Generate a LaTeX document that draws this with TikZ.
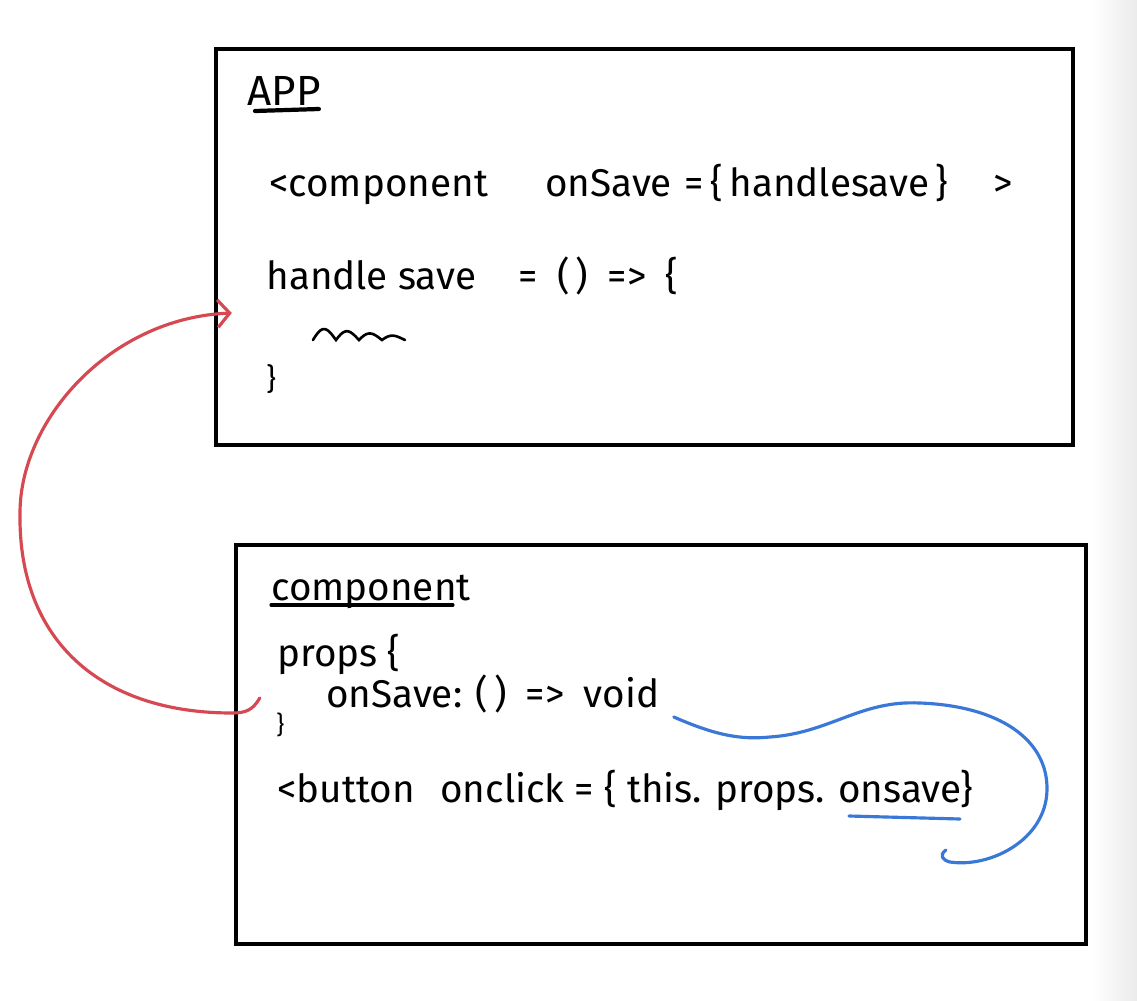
\documentclass[tikz,border=0pt]{standalone}
\usepackage{fontspec}
\setmainfont{Fira Sans}
\usepackage{tikz}
\usetikzlibrary{arrows.meta, calc}

\definecolor{penred}{RGB}{214,72,82}
\definecolor{penblue}{RGB}{58,120,216}

\begin{document}
\begin{tikzpicture}[
    x=0.02cm, y=-0.02cm,
    every node/.style={inner sep=0pt, font=\fontsize{22}{26}\selectfont},
    panel/.style={draw, line width=2.6pt},
    code/.style={anchor=base west},
    ink/.style={line width=1.8pt, line cap=round},
    redarr/.style={ink, penred, -{Straight Barb[length=2.4mm, width=5.5mm]}},
  ]
    \useasboundingbox (0,0) rectangle (1137,1001);
    \shade[left color=white, right color=black!8] (1092,0) rectangle (1137,1001);

    % App
    \node[panel, minimum width=17.14cm, minimum height=7.92cm] (app) at (644.5,247) {};
    \node[code, font=\fontsize{24}{28}\selectfont] (apptitle) at (247,105) {APP};
    \draw[ink, line width=2.4pt] ($(apptitle.base west)+(8,6)$) -- ($(apptitle.base east)+(-2,4)$);
    \node[code] (use1) at (269,196) {<component};
    \node[code] (use2) at (545,196) {onSave\,\,=\,\{\,handlesave\,\}};
    \node[code] (use3) at (993,196) {>};
    \node[code] (def1) at (266,289) {handle save};
    \node[code] (def2) at (518,289) {=\,\,\,(\,)\,\,\,=>\,\,\,\{};
    \draw[ink, line width=1.5pt] plot[domain=0:4, samples=81, smooth]
         ({313+23*\x}, {340-(12-2.2*\x)*abs(sin(180*\x))});
    \node[code, font=\fontsize{17}{20}\selectfont] (def3) at (266,389) {\}};

    % Component
    \node[panel, minimum width=17.0cm, minimum height=7.98cm] (comp) at (661,744.5) {};
    \node[code] (comptitle) at (271,600) {component};
    \draw[ink] ($(comptitle.base west)+(0,5)$) -- ($(comptitle.base east)+(-18,5)$);
    \node[code] (prp) at (277,666) {props \{};
    \node[code] (sig) at (326,707) {onSave:\,\,(\,)\,\,\,=>\,\,\,void};
    \node[code, font=\fontsize{14}{16}\selectfont] (prpend) at (276,733) {\}};
    \node[code] (btn1) at (277,802) {<button};
    \node[code] (btn2) at (440,802) {onclick = \{ this. props.};
    \node[code] (onsv) at (838,802) {onsave};
    \node[code] (btn3) at (960,802) {\}};
    \draw[ink, penblue] ($(onsv.base west)+(11,14)$) -- ($(onsv.base east)+(-2,17)$);

    % onSave is passed down
    \coordinate (redfrom) at ($(comp.west)+(26,-46.5)$);
    \coordinate (redto) at ($(app.west)+(18,66)$);
    \draw[redarr] (redfrom) .. controls +(-7,12) and +(14,0) .. (232,713)
         .. controls (100,713) and (18,640) .. (20,513)
         .. controls (20,420) and (110,318) .. (redto);

    % the handler is called on click
    \coordinate (bluefrom) at ($(sig.base east)+(14,10)$);
    \coordinate (blueto) at ($(onsv.base east)+(-16,48)$);
    \draw[ink, penblue] (bluefrom) .. controls (715,735) and (740,740) .. (770,737)
         .. controls (830,733) and (860,700) .. (920,703)
         .. controls (1000,706) and (1048,740) .. (1047,790)
         .. controls (1046,840) and (990,868) .. (950,862)
         .. controls (942,860) and (939,855) .. (blueto);
\end{tikzpicture}
\end{document}
